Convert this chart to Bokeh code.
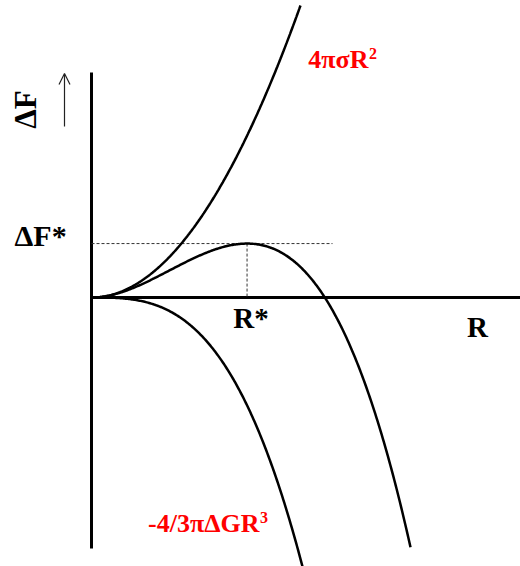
import numpy as np
from bokeh.plotting import figure
from bokeh.models import Range1d, Arrow, OpenHead
from bokeh.core.properties import value
from bokeh.embed import file_html
from bokeh.resources import INLINE

# Classical nucleation: dF(R) = 4*pi*sigma*R^2 - 4/3*pi*dG*R^3
sigma = 0.0532          # surface energy (arbitrary units)
dG = 0.0684             # volume free-energy gain (arbitrary units)

R_surface = np.linspace(0.0, 2.09, 200)
R_volume = np.linspace(0.0, 2.12, 200)
R_total = np.linspace(0.0, 3.19, 300)

labels = {
    "surface": ("4πσR", "2"),
    "volume": ("-4/3πΔGR", "3"),
    "barrier": "ΔF*",
    "radius_crit": "R*",
    "x_axis": "R",
    "y_axis": "ΔF",
}


def surface_term(r):
    return 4 * np.pi * sigma * r ** 2


def volume_term(r):
    return -4.0 / 3.0 * np.pi * dG * r ** 3


# critical radius and barrier height from dF/dR = 0
R_star = 2 * sigma / dG
F_star = surface_term(R_star) + volume_term(R_star)

p = figure(width=520, height=566, output_backend="svg", toolbar_location=None,
           x_range=Range1d(-0.91, 4.29), y_range=Range1d(-2.69, 2.97),
           min_border=0, min_border_left=0, min_border_right=0,
           min_border_top=0, min_border_bottom=0)
p.axis.visible = False
p.grid.visible = False
p.outline_line_color = None
p.background_fill_color = "white"
p.border_fill_color = "white"

# axes drawn as plain lines through the origin
p.line([0, 0], [-2.51, 2.25], line_color="black", line_width=3)
p.line([0, 4.29], [0, 0], line_color="black", line_width=3)

# guide lines to the maximum
p.line([0, 2.41], [F_star, F_star], line_color="#333333", line_width=1,
       line_dash="3 2")
p.line([R_star, R_star], [F_star, 0], line_color="#333333", line_width=1,
       line_dash="3 2")

# the three curves
p.line(R_surface, surface_term(R_surface), line_color="black", line_width=2.5)
p.line(R_volume, volume_term(R_volume), line_color="black", line_width=2.5)
p.line(R_total, surface_term(R_total) + volume_term(R_total),
       line_color="black", line_width=2.5)

serif = value("Liberation Serif")

p.text(x=[-0.66], y=[1.88], text=[labels["y_axis"]], angle=np.pi / 2,
       text_font=serif, text_font_style="bold", text_font_size="31px",
       text_align="center", text_baseline="middle", text_color="black")
p.add_layout(Arrow(end=OpenHead(size=11, line_width=1.2, line_color="#222222"),
                   x_start=-0.27, y_start=1.71, x_end=-0.27, y_end=2.24,
                   line_width=1.2, line_color="#222222"))

p.text(x=[-0.77], y=[F_star + 0.08], text=[labels["barrier"]],
       text_font=serif, text_font_style="bold", text_font_size="30px",
       text_align="left", text_baseline="middle", text_color="black")
p.text(x=[R_star + 0.04], y=[-0.2], text=[labels["radius_crit"]],
       text_font=serif, text_font_style="bold", text_font_size="29px",
       text_align="center", text_baseline="middle", text_color="black")
p.text(x=[3.86], y=[-0.29], text=[labels["x_axis"]],
       text_font=serif, text_font_style="bold", text_font_size="29px",
       text_align="center", text_baseline="middle", text_color="black")

# red term labels, base text right-aligned against its raised exponent
for (base, sup), xs, yb, ys in [(labels["surface"], 2.77, 2.385, 2.44),
                                (labels["volume"], 1.68, -2.26, -2.20)]:
    p.text(x=[xs], y=[yb], text=[base],
           text_font=serif, text_font_style="bold", text_font_size="26px",
           text_align="right", text_baseline="middle", text_color="#ff0000")
    p.text(x=[xs + 0.005], y=[ys], text=[sup],
           text_font=serif, text_font_style="bold", text_font_size="16px",
           text_align="left", text_baseline="middle", text_color="#ff0000")

open("out.html", "w").write(file_html(p, INLINE))
